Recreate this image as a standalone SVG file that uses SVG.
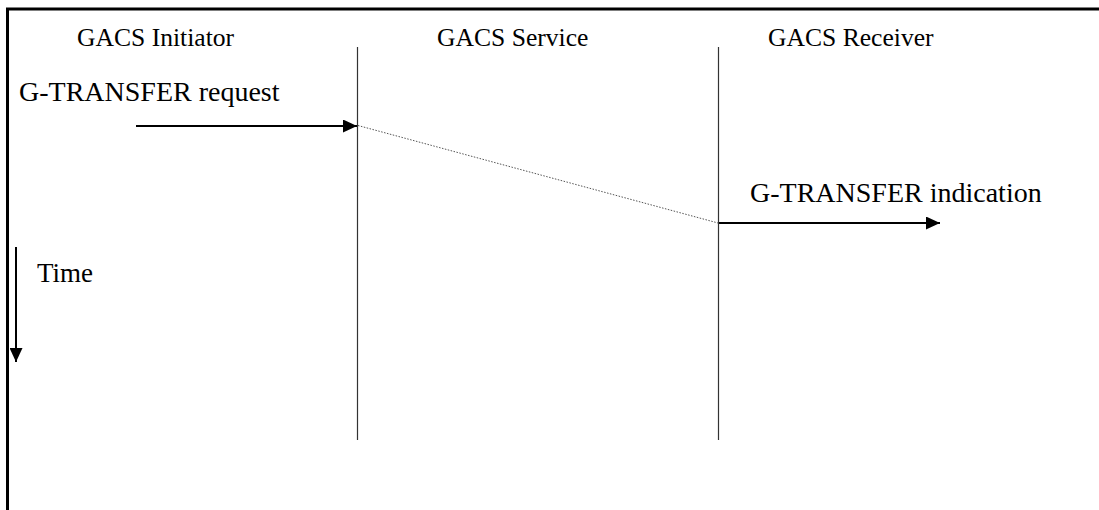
<svg xmlns="http://www.w3.org/2000/svg" width="1099" height="510" viewBox="0 0 1099 510">
  <style>
    .lbl { font-family: "Liberation Serif", "Times New Roman", serif; font-size: 25.6px; fill: #000; }
    .msglbl { font-size: 28px; }
    .life { stroke: #333; stroke-width: 1.2; fill: none; }
    .msg { stroke: #000; stroke-width: 2; fill: none; }
    .delay { stroke: #555; stroke-width: 1; stroke-dasharray: 1.5 1.5; fill: none; }
    .frame { stroke: #000; stroke-width: 3; fill: none; }
  </style>
  <defs>
    <marker id="head" viewBox="0 0 14 13" refX="14" refY="6.5" markerWidth="14" markerHeight="13" markerUnits="userSpaceOnUse" orient="auto">
      <path d="M0,0 L14,6.5 L0,13 Z" fill="#000"/>
    </marker>
  </defs>

  <rect width="1099" height="510" fill="#fff"/>

  <!-- page frame (top and left edges) -->
  <g id="frame">
    <path class="frame" d="M7.5,510 V9 H1099"/>
  </g>

  <!-- participants -->
  <g id="initiator">
    <text class="lbl" x="77" y="46">GACS Initiator</text>
  </g>
  <g id="service">
    <text class="lbl" x="437" y="46">GACS Service</text>
    <line class="life" x1="357.5" y1="47" x2="357.5" y2="440"/>
  </g>
  <g id="receiver">
    <text class="lbl" x="768" y="46">GACS Receiver</text>
    <line class="life" x1="718.5" y1="47" x2="718.5" y2="440"/>
  </g>

  <!-- time axis -->
  <g id="time">
    <text class="lbl" x="37" y="282" style="font-size:27px">Time</text>
  </g>

  <!-- message labels -->
  <g id="request-label">
    <text class="lbl msglbl" x="19" y="101">G-TRANSFER request</text>
  </g>
  <g id="indication-label">
    <text class="lbl msglbl" x="750" y="202">G-TRANSFER indication</text>
  </g>

  <!-- connectors -->
  <g id="connectors">
    <line class="msg" x1="136" y1="126" x2="357" y2="126" marker-end="url(#head)"/>
    <line class="delay" x1="358" y1="125.5" x2="718" y2="223"/>
    <line class="msg" x1="719" y1="223" x2="940" y2="223" marker-end="url(#head)"/>
    <line class="msg" x1="16" y1="247" x2="16" y2="362" marker-end="url(#head)"/>
  </g>
</svg>
